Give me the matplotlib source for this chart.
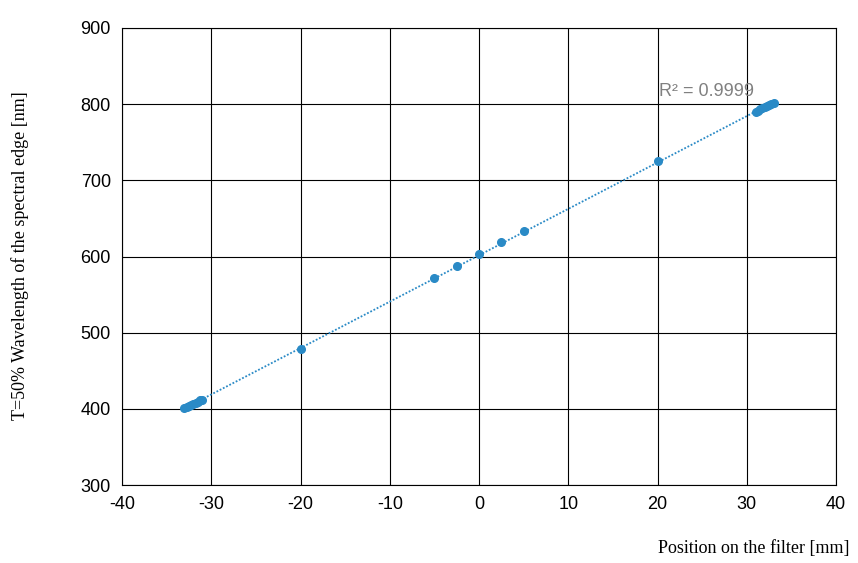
import matplotlib
matplotlib.use('Agg')
import matplotlib.pyplot as plt
import numpy as np

plt.rcParams['font.family'] = ['Liberation Sans', 'DejaVu Sans']
plt.rcParams['axes.unicode_minus'] = False

pos_left = [-33.0, -32.75, -32.5, -32.25, -32.0, -31.75, -31.5, -31.25, -31.0]
wl_left = [400.5, 402.0, 403.5, 405.0, 406.5, 408.0, 409.5, 411.0, 412.0]
pos_mid = [-20.0, -5.0, -2.5, 0.0, 2.5, 5.0, 20.0]
wl_mid = [478.0, 572.0, 587.0, 603.0, 619.0, 634.0, 725.0]
pos_right = [31.0, 31.25, 31.5, 31.75, 32.0, 32.25, 32.5, 32.75, 33.0]
wl_right = [790.0, 791.5, 793.0, 794.5, 796.0, 797.5, 799.0, 800.5, 802.0]

x = np.array(pos_left + pos_mid + pos_right)
y = np.array(wl_left + wl_mid + wl_right)

fit = np.polyfit(x, y, 1)

col = '#2a8ac6'
fig = plt.figure(figsize=(8.58, 5.63), dpi=100)
ax = fig.add_axes([122/858, 1-485/563, (836-122)/858, (485-28)/563])

xs = np.linspace(x.min(), x.max(), 100)
ax.plot(xs, np.polyval(fit, xs), color=col, lw=1.3, dashes=(1, 1))
ax.plot(x, y, 'o', color=col, ms=5.5)

ax.set_xlim(-40, 40)
ax.set_ylim(300, 900)
ax.set_xticks(range(-40, 41, 10))
ax.set_yticks(range(300, 901, 100))
ax.grid(color='black', lw=0.8)
ax.set_axisbelow(True)
for s in ax.spines.values():
    s.set_color('black')
    s.set_linewidth(0.8)
ax.tick_params(length=0, labelsize=13, pad=8)

ax.text(30.8, 806, 'R² = 0.9999', color='#808080', fontsize=13,
        ha='right', va='bottom')

fig.text(20/858, 1-256/563, 'T=50% Wavelength of the spectral edge [nm]',
         family='Liberation Serif', fontsize=13, rotation=90, ha='center', va='center')
fig.text(850/858, 1-548/563, 'Position on the filter [mm]',
         family='Liberation Serif', fontsize=13, ha='right', va='center')

fig.savefig('out.png', dpi=100)
